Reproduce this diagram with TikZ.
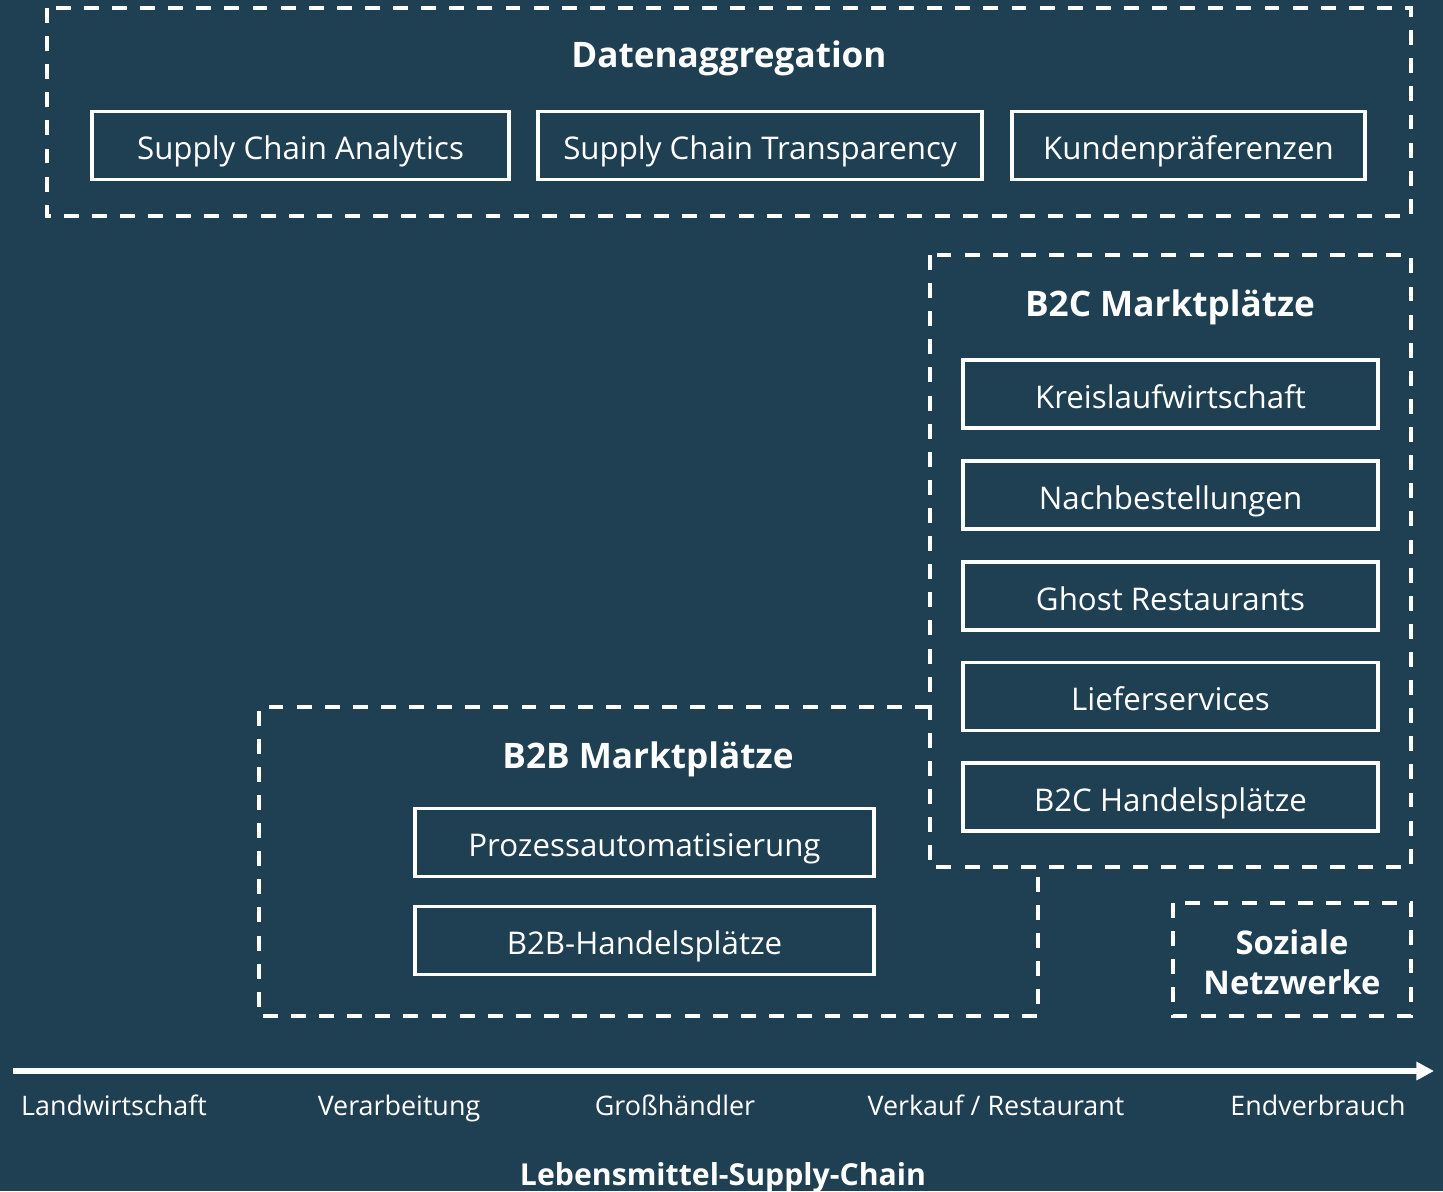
\documentclass[tikz,border=0pt]{standalone}
\usepackage{fontspec}
\setmainfont{Open Sans}
\usepackage{xcolor}
\definecolor{deepteal}{RGB}{31, 63, 82}
\definecolor{paperwhite}{RGB}{255, 255, 255}
\usepackage{tikz}
\usetikzlibrary{arrows.meta, positioning}

\begin{document}
\begin{tikzpicture}[x=0.02cm, y=-0.02cm, >=Stealth,
    groupframe/.style={draw=paperwhite, line width=2.1pt, dash pattern=on 8.5pt off 7.5pt},
    itembox/.style={draw=paperwhite, line width=1.9pt, text=paperwhite, minimum height=1.36cm,
        inner sep=0pt, text height=16pt, text depth=0pt, font=\fontsize{17.8}{21}\selectfont},
    grouptitle/.style={text=paperwhite, anchor=base, font=\fontsize{20}{24}\selectfont\bfseries},
    stagelabel/.style={text=paperwhite, anchor=base, font=\fontsize{15.3}{18}\selectfont}]
    \fill[deepteal] (0,0) rectangle (1443,1191);
    \useasboundingbox (0,0) rectangle (1443,1191);

    % Datenaggregation
    \draw[groupframe] (47,8) rectangle (1411,216);
    \node[grouptitle] (aggtitle) at (729,67) {Datenaggregation};
    \node[itembox, minimum width=8.34cm] (analytics) at (300.5,145.5) {Supply Chain Analytics};
    \node[itembox, minimum width=8.88cm] (transparency) at (760,145.5) {Supply Chain Transparency};
    \node[itembox, minimum width=7.06cm] (preferences) at (1188.5,145.5) {Kundenpräferenzen};

    % B2C Marktplaetze
    \draw[groupframe] (930,255) rectangle (1411,867);
    \node[grouptitle] (btoctitle) at (1170,316) {B2C Marktplätze};
    \node[itembox, minimum width=8.3cm] (circular) at (1170.5,394) {Kreislaufwirtschaft};
    \node[itembox, minimum width=8.3cm] (reorders) at (1170.5,495) {Nachbestellungen};
    \node[itembox, minimum width=8.3cm] (ghost) at (1170.5,596) {Ghost Restaurants};
    \node[itembox, minimum width=8.3cm] (delivery) at (1170.5,696.5) {Lieferservices};
    \node[itembox, minimum width=8.3cm] (btocmarket) at (1170.5,797) {B2C Handelsplätze};

    % B2B Marktplaetze
    \draw[groupframe] (930,707) -- (259,707) -- (259,1016) -- (1038,1016) -- (1038,867);
    \node[grouptitle] (btobtitle) at (648,768) {B2B Marktplätze};
    \node[itembox, minimum width=9.18cm] (automation) at (644.5,842.5) {Prozessautomatisierung};
    \node[itembox, minimum width=9.18cm] (btobmarket) at (644.5,940.5) {B2B-Handelsplätze};

    % Soziale Netzwerke
    \draw[groupframe] (1173,903) rectangle (1411,1016);
    \node[grouptitle, anchor=center, align=center, font=\fontsize{18.6}{22.7}\selectfont\bfseries] (social) at (1292,962) {Soziale\\Netzwerke};

    % Lebensmittel-Supply-Chain
    \coordinate (chainstart) at (13,1071);
    \coordinate (chainend) at (1434,1071);
    \draw[paperwhite, line width=2.9pt, -{Triangle[length=10pt, width=10pt]}] (chainstart) -- (chainend);
    \node[stagelabel] (farming) at (114,1115) {Landwirtschaft};
    \node[stagelabel] (processing) at (399,1115) {Verarbeitung};
    \node[stagelabel] (wholesale) at (675,1115) {Großhändler};
    \node[stagelabel] (retail) at (996,1115) {Verkauf / Restaurant};
    \node[stagelabel] (consumption) at (1318,1115) {Endverbrauch};
    \node[grouptitle, font=\fontsize{17.2}{20}\selectfont\bfseries] (chaintitle) at (723,1185) {Lebensmittel-Supply-Chain};
\end{tikzpicture}
\end{document}
